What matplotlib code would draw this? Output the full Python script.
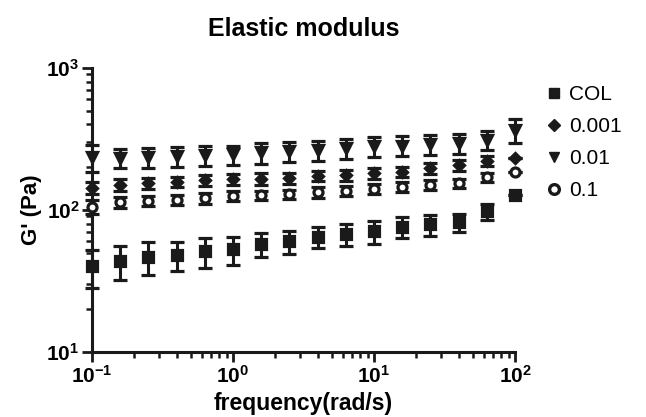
import numpy as np
import matplotlib.pyplot as plt
from matplotlib.lines import Line2D

plt.rcParams['font.family'] = ['Liberation Sans', 'DejaVu Sans']
plt.rcParams['mathtext.fontset'] = 'custom'
plt.rcParams['mathtext.rm'] = 'Liberation Sans:bold'
plt.rcParams['mathtext.it'] = 'Liberation Sans:bold'
plt.rcParams['mathtext.bf'] = 'Liberation Sans:bold'

# angular frequency sweep, rad/s
freq = [0.1, 0.158, 0.251, 0.398, 0.631, 1.0, 1.58, 2.51, 3.98, 6.31,
        10.0, 15.8, 25.1, 39.8, 63.1, 100.0]

# G' mean and SD (Pa)
col_mean = [40, 44, 47, 48, 51, 53, 58, 60, 65, 68, 71, 76, 79, 82, 98, 128]
col_sd = [12, 12, 12, 11, 12, 12, 11, 11, 11, 12, 13, 13, 13, 12, 13, 0]

g001_mean = [143, 150, 154, 158, 162, 165, 166, 168, 174, 176, 181, 186, 196, 206, 222, 232]
g001_sd = [14, 14, 14, 14, 14, 15, 15, 15, 15, 16, 16, 16, 17, 18, 18, 0]

g01_mean = [236, 232, 236, 240, 242, 246, 254, 260, 264, 272, 280, 284, 290, 295, 310, 365]
g01_sd = [50, 36, 38, 38, 38, 38, 42, 42, 43, 44, 45, 46, 47, 48, 47, 70]

g1_mean = [105, 114, 116, 118, 121, 126, 127, 129, 133, 136, 141, 146, 150, 154, 170, 186]
g1_sd = [12, 10, 10, 10, 10, 10, 10, 10, 11, 11, 11, 12, 12, 12, 12, 0]

labels = ['COL', '0.001', '0.01', '0.1']

ink = '#1a1a1a'

fig = plt.figure(figsize=(6.46, 4.17), dpi=100)
ax = fig.add_axes([0.1424, 0.156, 0.6548, 0.681])

series = [
    (col_mean, col_sd, 's', ink, 6.5),
    (g001_mean, g001_sd, 'D', ink, 5.5),
    (g01_mean, g01_sd, 'v', ink, 7),
    (g1_mean, g1_sd, 'o', 'white', 6.5),
]
for mean, sd, mk, face, ms in series:
    eb = ax.errorbar(freq, mean, yerr=sd, fmt=mk, color=ink, mfc=face,
                     mec=ink, mew=2.3, ms=ms, ecolor=ink, elinewidth=2.2,
                     capsize=5, capthick=2.8, clip_on=False, zorder=3)
    for art in eb.lines[1]:
        art.set_clip_on(False)
    for art in eb.lines[2]:
        art.set_clip_on(False)

ax.set_xscale('log')
ax.set_yscale('log')
ax.set_xlim(0.1, 100)
ax.set_ylim(10, 1000)

for s in ['top', 'right']:
    ax.spines[s].set_visible(False)
for s in ['left', 'bottom']:
    ax.spines[s].set_linewidth(2.2)
    ax.spines[s].set_color(ink)

ax.tick_params(which='major', length=7, width=2, color=ink, direction='out',
               labelsize=15, pad=2)
ax.tick_params(which='minor', length=4, width=1.8, color=ink, direction='out')
for lab in ax.get_xticklabels() + ax.get_yticklabels():
    lab.set_fontweight('bold')

ax.set_xlabel('frequency(rad/s)', fontsize=16.5, fontweight='bold', labelpad=4)
ax.set_ylabel("G' (Pa)", fontsize=16, fontweight='bold', labelpad=3)
ax.set_title('Elastic modulus', fontsize=18, fontweight='bold', pad=23)

handles = [
    Line2D([], [], ls='none', marker='s', color=ink, ms=7),
    Line2D([], [], ls='none', marker='D', color=ink, ms=6),
    Line2D([], [], ls='none', marker='v', color=ink, ms=7),
    Line2D([], [], ls='none', marker='o', mfc='white', mec=ink, mew=2.4, ms=7),
]
ax.legend(handles, labels, loc='upper left', bbox_to_anchor=(1.047, 0.968),
          frameon=False, fontsize=15, handletextpad=0.25, labelspacing=0.62,
          handlelength=1.0, borderaxespad=0)

fig.savefig('out.png', dpi=100)
